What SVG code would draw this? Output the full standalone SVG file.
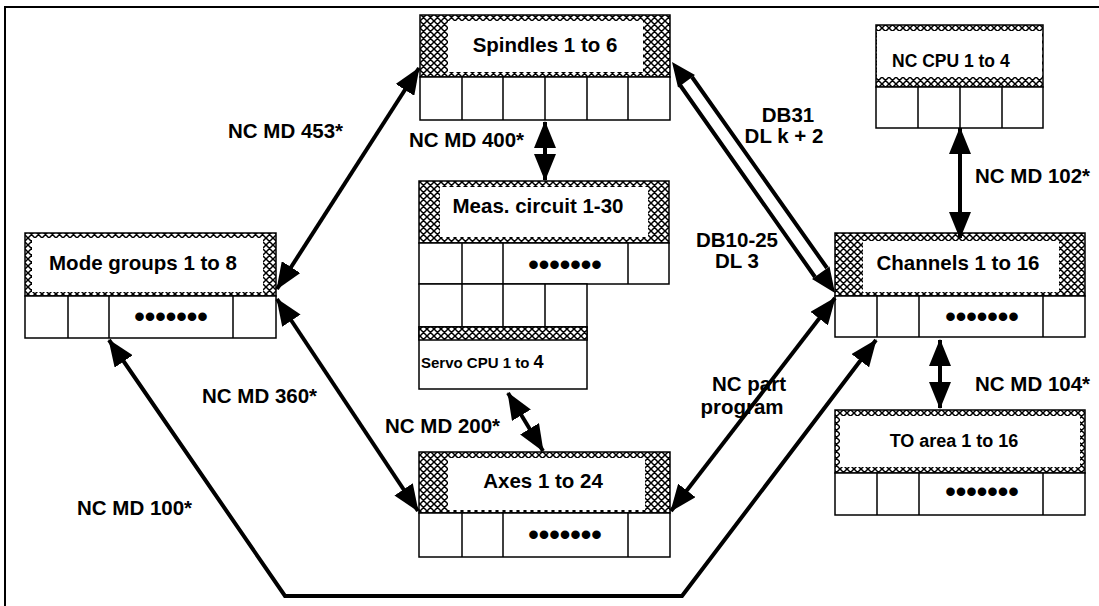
<svg xmlns="http://www.w3.org/2000/svg" width="1099" height="606" viewBox="0 0 1099 606">
<defs>
<pattern id="hatch" patternUnits="userSpaceOnUse" width="7" height="7">
<rect width="7" height="7" fill="#fff"/>
<path d="M0,0 L7,7 M7,0 L0,7 M-1,6 L1,8 M6,-1 L8,1 M-1,1 L1,-1 M6,8 L8,6" stroke="#000" stroke-width="1.5"/>
</pattern>
<marker id="ah" viewBox="0 0 27 22" refX="26" refY="11" markerWidth="27" markerHeight="22" markerUnits="userSpaceOnUse" orient="auto-start-reverse">
<path d="M0,0 L27,11 L0,22 z" fill="#000"/>
</marker>
<style>
.h{fill:url(#hatch);stroke:#000;stroke-width:1.5}
.w{fill:#fff;stroke:none}
.c{fill:#fff;stroke:#000;stroke-width:1.5}
.d{stroke:#000;stroke-width:1.5}
.t{font-family:"Liberation Sans",Arial,sans-serif;font-weight:bold;font-size:20.5px;fill:#000}
.m{text-anchor:middle}
.dots{font-family:"Liberation Sans",Arial,sans-serif;font-weight:bold;font-size:30px;text-anchor:middle;fill:#000}
.a{fill:none;stroke:#000;stroke-width:4;marker-start:url(#ah);marker-end:url(#ah)}
.l{fill:none;stroke:#000;stroke-width:4}
</style>
</defs>
<rect width="1099" height="606" fill="#fff"/>
<path d="M5,606 L5,7 L1099,7" fill="none" stroke="#000" stroke-width="2"/>

<g id="spindles">
<rect class="h" x="420" y="15" width="250" height="62"/>
<rect class="w" x="448" y="21" width="195" height="51"/>
<text class="t m" x="545" y="52">Spindles 1 to 6</text>
<rect class="c" x="420" y="77" width="250" height="43"/>
<path class="d" d="M462,77V120M503,77V120M545,77V120M587,77V120M628,77V120"/>
</g>

<g id="nccpu">
<rect class="h" x="876" y="25" width="167" height="62"/>
<rect class="w" x="877" y="31" width="165" height="46"/>
<text class="t" x="892" y="67" style="font-size:17.5px">NC CPU 1 to 4</text>
<rect class="c" x="876" y="87" width="167" height="41"/>
<path class="d" d="M918,87V128M960,87V128M1002,87V128"/>
</g>

<g id="modegroups">
<rect class="h" x="25" y="233" width="251" height="63"/>
<rect class="w" x="32" y="238" width="231" height="54"/>
<text class="t m" x="143" y="270">Mode groups 1 to 8</text>
<rect class="c" x="25" y="296" width="251" height="42"/>
<path class="d" d="M68,296V338M109,296V338M233,296V338"/>
<text class="dots" x="171" y="327">•••••••</text>
</g>

<g id="meascircuit">
<rect class="h" x="419" y="181" width="250" height="62"/>
<rect class="w" x="440" y="187" width="208" height="50"/>
<text class="t m" x="538" y="213">Meas. circuit 1-30</text>
<rect class="c" x="419" y="243" width="250" height="41"/>
<path class="d" d="M462,243V284M503,243V284M628,243V284"/>
<text class="dots" x="565" y="275">•••••••</text>
<rect class="c" x="419" y="284" width="168" height="43"/>
<path class="d" d="M462,284V327M503,284V327M545,284V327"/>
</g>

<g id="servocpu">
<rect class="c" x="419" y="327" width="168" height="62"/>
<rect class="h" x="419" y="327" width="168" height="13"/>
<text class="t" x="421" y="368" style="font-size:15px">Servo CPU 1 to <tspan style="font-size:18px">4</tspan></text>
</g>

<g id="axes">
<rect class="h" x="419" y="452" width="251" height="61"/>
<rect class="w" x="448" y="458" width="197" height="52"/>
<text class="t m" x="543" y="488">Axes 1 to 24</text>
<rect class="c" x="419" y="513" width="251" height="44"/>
<path class="d" d="M462,513V557M503,513V557M628,513V557"/>
<text class="dots" x="565" y="545">•••••••</text>
</g>

<g id="channels">
<rect class="h" x="835" y="233" width="250" height="63"/>
<rect class="w" x="863" y="241" width="196" height="51"/>
<text class="t m" x="958" y="270">Channels 1 to 16</text>
<rect class="c" x="835" y="296" width="250" height="41"/>
<path class="d" d="M877,296V337M919,296V337M1043,296V337"/>
<text class="dots" x="982" y="327">•••••••</text>
</g>

<g id="toarea">
<rect class="h" x="835" y="410" width="250" height="63"/>
<rect class="w" x="840" y="416" width="240" height="51"/>
<text class="t m" x="954" y="447" style="font-size:18px">TO area 1 to 16</text>
<rect class="c" x="835" y="473" width="250" height="42"/>
<path class="d" d="M877,473V515M919,473V515M1043,473V515"/>
<text class="dots" x="982" y="502">•••••••</text>
</g>

<g id="connectors">
<path class="a" d="M277,289 L419,68"/>
<path class="a" d="M277,299 L418,511"/>
<path class="a" d="M109,340 L285,596 L682,596 L876,340"/>
<path class="a" d="M671,511 L835,298"/>
<path class="l" d="M692,77 L827,268 M680,85 L815,277"/>
<path d="M672,62 L695,75 L678,87.5 Z M835,293 L829.5,266.5 L812,279 Z" fill="#000"/>
<path class="a" d="M545,122 L545,180"/>
<path class="a" d="M508,393 L543,451"/>
<path class="a" d="M960,128 L960,238"/>
<path class="a" d="M940,340 L940,408"/>
</g>

<g id="labels">
<text class="t" x="228" y="138">NC MD 453*</text>
<text class="t" x="409" y="147">NC MD 400*</text>
<text class="t m" x="788" y="122">DB31</text>
<text class="t m" x="784" y="143">DL k + 2</text>
<text class="t m" x="737" y="247">DB10-25</text>
<text class="t m" x="737" y="268">DL 3</text>
<text class="t" x="975" y="183">NC MD 102*</text>
<text class="t" x="975" y="391">NC MD 104*</text>
<text class="t m" x="749" y="391">NC part</text>
<text class="t m" x="742" y="414">program</text>
<text class="t" x="202" y="403">NC MD 360*</text>
<text class="t" x="385" y="433">NC MD 200*</text>
<text class="t" x="77" y="515">NC MD 100*</text>
</g>
</svg>
